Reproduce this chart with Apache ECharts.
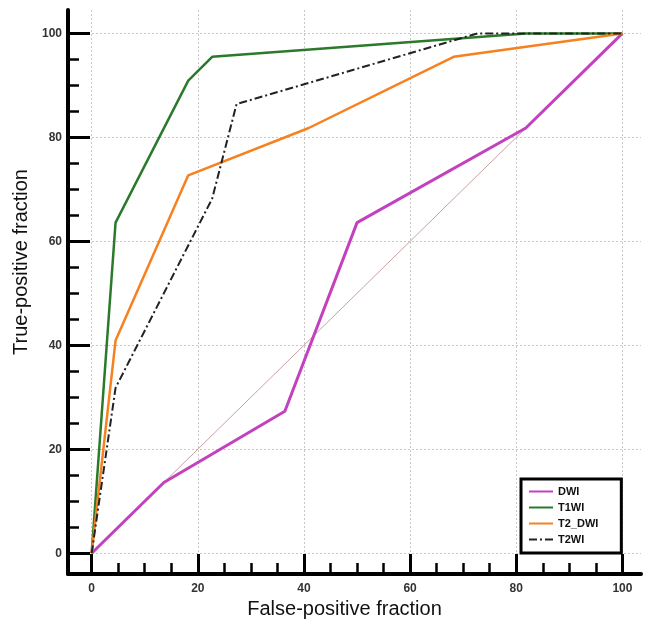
<!DOCTYPE html>
<html>
<head>
<meta charset="utf-8">
<script src="https://cdn.jsdelivr.net/npm/echarts@6/dist/echarts.min.js"></script>
<style>
  html, body { margin: 0; padding: 0; background: #fff; }
  #chart { width: 648px; height: 624px; }
</style>
</head>
<body>
<div id="chart"></div>
<script>
// tick positions (percent)
const majorTicks = [0, 20, 40, 60, 80, 100];
const minorTicks = [5, 10, 15, 25, 30, 35, 45, 50, 55, 65, 70, 75, 85, 90, 95];

// ROC points (false-positive / true-positive fraction, %)
const dwiFpf = [0, 13.6, 36.4, 50, 81.8, 100];
const dwiTpf = [0, 13.6, 27.3, 63.6, 81.8, 100];
const t1Fpf = [0, 4.5, 18.2, 22.7, 81.8, 100];
const t1Tpf = [0, 63.6, 90.9, 95.5, 100, 100];
const t2dwiFpf = [0, 4.5, 18.2, 40.9, 68.2, 100];
const t2dwiTpf = [0, 40.9, 72.7, 81.8, 95.5, 100];
const t2Fpf = [0, 4.5, 22.7, 27.3, 72.7, 100];
const t2Tpf = [0, 31.8, 68.2, 86.4, 100, 100];
const chanceLine = [0, 100];

const zip = (xs, ys) => xs.map((x, i) => [x, ys[i]]);

const labelStyle = { fontFamily: 'Liberation Sans', fontWeight: 'bold', fontSize: 12, color: '#333' };
const nameStyle = { fontFamily: 'Liberation Sans', fontSize: 20, color: '#111' };
const tickLine = { color: '#000', width: 3 };
const gridLine = { color: '#c8c8c8', width: 1, type: [2, 2] };

const chart = echarts.init(document.getElementById('chart'));
chart.setOption({
  animation: false,
  grid: { left: 68, right: 7, top: 10, bottom: 50, containLabel: false, outerBoundsMode: 'none' },
  legend: {
    data: ['DWI', 'T1WI', 'T2_DWI', 'T2WI'],
    orient: 'vertical',
    left: 521,
    top: 479,
    padding: [7, 23, 8, 7],
    itemGap: 5,
    itemWidth: 24,
    itemHeight: 12,
    itemStyle: { opacity: 0 },
    backgroundColor: '#fff',
    borderColor: '#000',
    borderWidth: 3,
    borderRadius: 0,
    textStyle: { fontFamily: 'Liberation Sans', fontWeight: 'bold', fontSize: 11, color: '#111' }
  },
  xAxis: [
    {
      type: 'value',
      position: 'bottom',
      min: -4.46,
      max: 103.5,
      name: 'False-positive fraction',
      nameLocation: 'middle',
      nameGap: 22,
      nameTextStyle: Object.assign({ padding: [0, 20, 0, 0] }, nameStyle),
      axisLine: { onZero: false, lineStyle: { color: '#000', width: 4 } },
      axisTick: { inside: true, length: 20, customValues: majorTicks, lineStyle: tickLine },
      axisLabel: Object.assign({ customValues: majorTicks, margin: 9 }, labelStyle),
      splitLine: { show: true, lineStyle: gridLine }
    },
    {
      type: 'value',
      position: 'bottom',
      min: -4.46,
      max: 103.5,
      axisLine: { show: false, onZero: false },
      axisTick: { inside: true, length: 11, customValues: minorTicks, lineStyle: { color: '#000', width: 2.5 } },
      axisLabel: { show: false },
      splitLine: { show: false }
    }
  ],
  yAxis: [
    {
      type: 'value',
      position: 'left',
      min: -4,
      max: 104.5,
      name: 'True-positive fraction',
      nameLocation: 'middle',
      nameGap: 31,
      nameTextStyle: Object.assign({ padding: [0, 0, 0, 60] }, nameStyle),
      axisLine: { onZero: false, lineStyle: { color: '#000', width: 4 } },
      axisTick: { inside: true, length: 22, customValues: majorTicks, lineStyle: tickLine },
      axisLabel: Object.assign({ customValues: majorTicks, margin: 6 }, labelStyle),
      splitLine: { show: true, lineStyle: gridLine }
    },
    {
      type: 'value',
      position: 'left',
      min: -4,
      max: 104.5,
      axisLine: { show: false, onZero: false },
      axisTick: { inside: true, length: 11, customValues: minorTicks, lineStyle: { color: '#000', width: 2.5 } },
      axisLabel: { show: false },
      splitLine: { show: false }
    }
  ],
  series: [
    {
      name: 'chance',
      type: 'line',
      symbol: 'none',
      silent: true,
      data: zip(chanceLine, chanceLine),
      lineStyle: { color: '#c9a0a0', width: 1 }
    },
    {
      name: 'DWI',
      type: 'line',
      symbol: 'none',
      data: zip(dwiFpf, dwiTpf),
      itemStyle: { color: '#c340bf' },
      lineStyle: { color: '#c340bf', width: 3 }
    },
    {
      name: 'T1WI',
      type: 'line',
      symbol: 'none',
      data: zip(t1Fpf, t1Tpf),
      itemStyle: { color: '#2b7a2b' },
      lineStyle: { color: '#2b7a2b', width: 2.5 }
    },
    {
      name: 'T2_DWI',
      type: 'line',
      symbol: 'none',
      data: zip(t2dwiFpf, t2dwiTpf),
      itemStyle: { color: '#f7801f' },
      lineStyle: { color: '#f7801f', width: 2.5 }
    },
    {
      name: 'T2WI',
      type: 'line',
      symbol: 'none',
      data: zip(t2Fpf, t2Tpf),
      itemStyle: { color: '#222' },
      lineStyle: { color: '#222', width: 2, type: [8, 3, 2, 3] }
    }
  ]
});
</script>
</body>
</html>
